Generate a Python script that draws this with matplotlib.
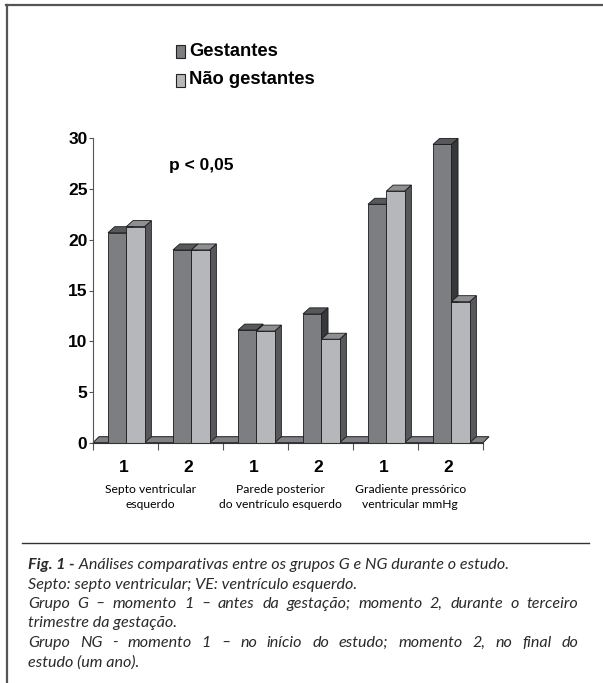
import matplotlib
matplotlib.use("Agg")
import matplotlib.pyplot as plt
from matplotlib.patches import Polygon, Rectangle
from matplotlib.lines import Line2D

# ---- data ----
moments = ["1", "2", "1", "2", "1", "2"]
measures = ["Septo ventricular\nesquerdo",
            "Parede posterior\ndo ventrículo esquerdo",
            "Gradiente pressórico\nventricular mmHg"]
gestantes = [20.7, 19.0, 11.1, 12.7, 23.5, 29.4]
nao_gestantes = [21.3, 19.0, 11.0, 10.2, 24.8, 13.9]
series_names = ["Gestantes", "Não gestantes"]
y_ticks = [0, 5, 10, 15, 20, 25, 30]
p_label = "p < 0,05"
caption_lead = "Fig. 1 -"
caption_lines = [
    " Análises comparativas entre os grupos G e NG durante o estudo.",
    "Septo: septo ventricular; VE: ventrículo esquerdo.",
    "Grupo G – momento 1 – antes da gestação; momento 2, durante o terceiro",
    "trimestre da gestação.",
    "Grupo NG - momento 1 – no início do estudo; momento 2, no final do",
    "estudo (um ano).",
]
justified_rows = {2, 4}

# ---- styling ----
W, H = 603, 683
G_FACE, G_TOP, G_SIDE = "#7c7e82", "#56585c", "#36383b"
N_FACE, N_TOP, N_SIDE = "#b6b7bb", "#8d8f93", "#56585b"
FLOOR = "#7f8185"
EDGE = "#1a1a1a"
BAR_W = 0.282
BAR_X0 = 0.231
DX, DY = 0.103, 0.59   # depth offset in data units

fig = plt.figure(figsize=(W / 100, H / 100), dpi=100)
fig.patch.set_facecolor("white")


def fx(px):
    return px / W


def fy(py):
    return 1 - py / H


ax_left, ax_right, ax_top, ax_bot = 93, 483, 138.3, 442.7
ax = fig.add_axes([fx(ax_left), fy(ax_bot), fx(ax_right - ax_left), (ax_bot - ax_top) / H])
ax.set_xlim(0, 6)
ax.set_ylim(0, 30)
ax.patch.set_alpha(0)

# floor
floor = Polygon([(0, 0), (6, 0), (6 + DX * 0.9, DY), (DX * 0.9, DY)], closed=True,
                facecolor=FLOOR, edgecolor=EDGE, lw=0.7, zorder=1, clip_on=False)
ax.add_patch(floor)


def bar3d(x0, h, face, top, side, z):
    x1 = x0 + BAR_W
    ax.add_patch(Polygon([(x1, 0), (x1 + DX, DY), (x1 + DX, h + DY), (x1, h)], closed=True,
                         facecolor=side, edgecolor=EDGE, lw=0.6, zorder=z, clip_on=False))
    ax.add_patch(Rectangle((x0, 0), BAR_W, h, facecolor=face, edgecolor=EDGE, lw=0.6,
                           zorder=z + 0.1, clip_on=False))
    ax.add_patch(Polygon([(x0, h), (x1, h), (x1 + DX, h + DY), (x0 + DX, h + DY)], closed=True,
                         facecolor=top, edgecolor=EDGE, lw=0.6, zorder=z + 0.2, clip_on=False))


for i, (g, n) in enumerate(zip(gestantes, nao_gestantes)):
    bar3d(i + BAR_X0, g, G_FACE, G_TOP, G_SIDE, 2 + i)
    bar3d(i + BAR_X0 + BAR_W, n, N_FACE, N_TOP, N_SIDE, 2.5 + i)

for s in ["top", "right"]:
    ax.spines[s].set_visible(False)
ax.spines["left"].set_color("#555555")
ax.spines["left"].set_linewidth(0.8)
ax.spines["bottom"].set_color("#333333")
ax.spines["bottom"].set_linewidth(0.8)
ax.spines["bottom"].set_zorder(20)

ax.set_yticks(y_ticks)
ax.set_yticklabels([str(t) for t in y_ticks], fontfamily="Liberation Sans",
                   fontweight="bold", fontsize=12.5)
ax.tick_params(axis="y", length=3, width=0.8, color="#555555", pad=1)
ax.set_xticks(range(7))
ax.set_xticklabels([])
ax.tick_params(axis="x", length=5, width=0.8, color="#555555")

for i, m in enumerate(moments):
    ax.text(i + 0.47, -2.4, m, ha="center", va="center", fontfamily="Liberation Sans",
            fontweight="bold", fontsize=12.5)

for k, lab in enumerate(measures):
    ax.text(2 * k + 0.88, -5.35, lab, ha="center", va="center", fontfamily="Lato",
            fontsize=8.7, linespacing=1.42)

ax.text(1.17, 27.3, p_label, ha="left", va="center", fontfamily="Liberation Sans",
        fontweight="bold", fontsize=12.5)

# legend
for (name, face, py) in [(series_names[0], G_FACE, 51), (series_names[1], N_FACE, 80)]:
    fig.patches.append(Rectangle((fx(176), fy(py + 7)), fx(9), 13 / H, facecolor=face,
                                 edgecolor="#222222", lw=0.8, transform=fig.transFigure))
    fig.text(fx(189), fy(py), name, ha="left", va="center", fontfamily="Liberation Sans",
             fontweight="bold", fontsize=13.2)

# frame and separator
fig.add_artist(Line2D([fx(7), fx(7)], [fy(5), 0], color="#555555", lw=1.6))
fig.add_artist(Line2D([fx(6), 1], [fy(5), fy(5)], color="#555555", lw=1.6))
fig.add_artist(Line2D([fx(22), fx(589)], [fy(542.5), fy(542.5)], color="#333333", lw=1.0))

# caption
renderer = fig.canvas.get_renderer()
cap_kw = dict(fontfamily="Lato", fontstyle="italic", fontsize=11.6, color="#2a2a2a",
              va="baseline", ha="left")
cap_x0, cap_x1 = 28, 578
baselines = [569, 588.5, 608, 627.5, 647, 666.5]

lead = fig.text(fx(cap_x0), fy(baselines[0]), caption_lead, fontweight="bold", **cap_kw)
lead_w = lead.get_window_extent(renderer).width
fig.text(fx(cap_x0) + lead_w / W, fy(baselines[0]), caption_lines[0], **cap_kw)

for row in range(1, len(caption_lines)):
    line = caption_lines[row]
    y = fy(baselines[row])
    if row in justified_rows:
        words = line.split(" ")
        widths = []
        for w in words:
            t = fig.text(0, 0, w, **cap_kw)
            widths.append(t.get_window_extent(renderer).width)
            t.remove()
        gap = (cap_x1 - cap_x0 - sum(widths)) / (len(words) - 1)
        x = cap_x0
        for w, wd in zip(words, widths):
            fig.text(fx(x), y, w, **cap_kw)
            x += wd + gap
    else:
        fig.text(fx(cap_x0), y, line, **cap_kw)

fig.savefig("out.png", dpi=100)
